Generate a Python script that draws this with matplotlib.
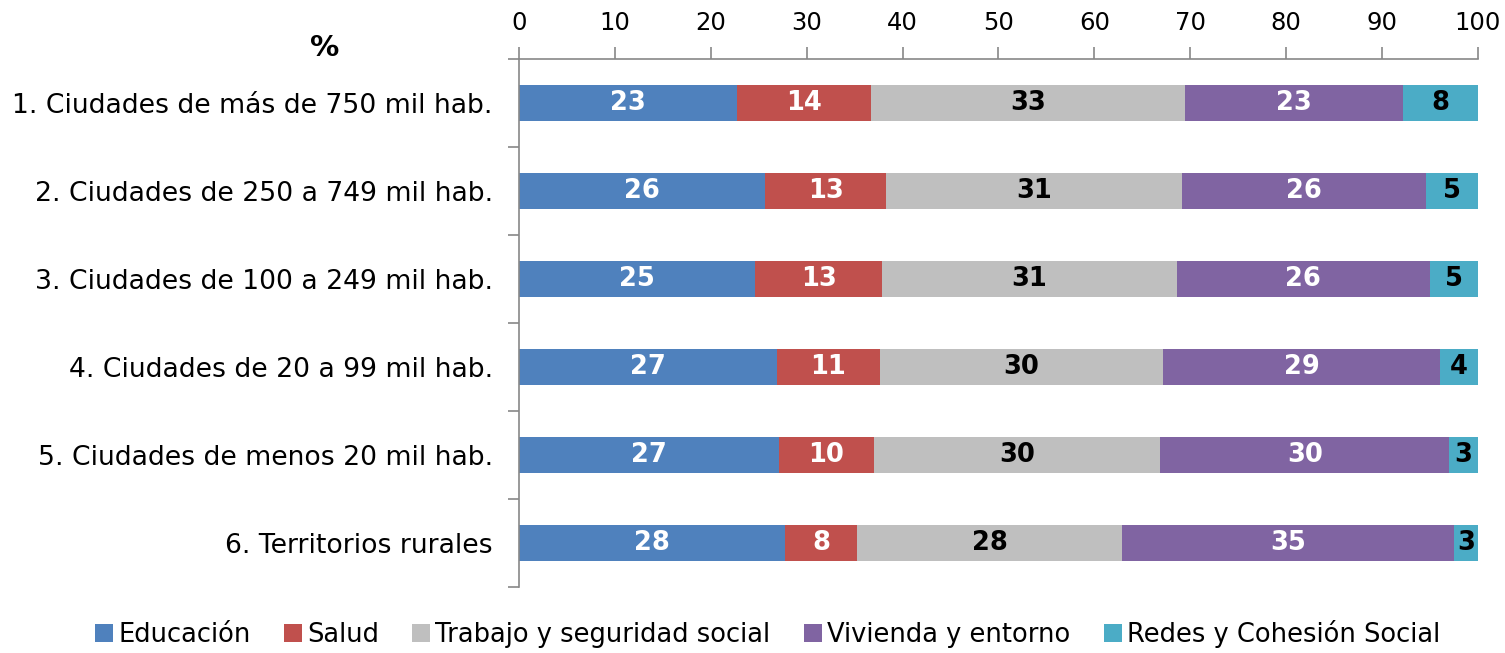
import matplotlib.pyplot as plt
import numpy as np

categories = [
    "1. Ciudades de más de 750 mil hab.",
    "2. Ciudades de 250 a 749 mil hab.",
    "3. Ciudades de 100 a 249 mil hab.",
    "4. Ciudades de 20 a 99 mil hab.",
    "5. Ciudades de menos 20 mil hab.",
    "6. Territorios rurales",
]

series_names = ["Educación", "Salud", "Trabajo y seguridad social",
                "Vivienda y entorno", "Redes y Cohesión Social"]

educacion = [22.7, 25.7, 24.6, 26.9, 27.1, 27.7]
salud = [14.0, 12.6, 13.3, 10.7, 9.9, 7.6]
trabajo = [32.8, 30.8, 30.7, 29.6, 29.9, 27.6]
vivienda = [22.7, 25.5, 26.4, 28.9, 30.1, 34.6]
redes = [7.8, 5.4, 5.0, 3.9, 3.0, 2.5]

colors = ["#4F81BD", "#C0504D", "#BFBFBF", "#8064A2", "#4BACC6"]
text_colors = ["white", "white", "black", "white", "black"]

plt.rcParams["font.family"] = ["DejaVu Sans"]

fig = plt.figure(figsize=(15.05, 6.53), dpi=100)
ax = fig.add_axes([0.3449, 0.1011, 0.6370, 0.8085])

y = np.arange(len(categories))
left = np.zeros(len(categories))
for name, vals, c, tc in zip(series_names,
                             [educacion, salud, trabajo, vivienda, redes],
                             colors, text_colors):
    vals = np.array(vals)
    ax.barh(y, vals, left=left, height=0.4, color=c, label=name)
    for yi, l, v in zip(y, left, vals):
        ax.text(l + v / 2, yi, str(int(v + 0.5)), ha="center", va="center",
                color=tc, fontsize=18.5, fontweight="bold")
    left += vals

ax.set_xlim(0, 100)
ax.set_ylim(len(categories) - 0.5, -0.5)
ax.xaxis.tick_top()
ax.set_xticks(range(0, 101, 10))
ax.tick_params(axis="x", direction="out", length=9, width=1.2, color="#888888",
               labelsize=17.5, pad=8.5)
ax.set_yticks(y)
ax.set_yticklabels(categories)
ax.tick_params(axis="y", which="major", length=0, labelsize=19.2, pad=19)
ax.set_yticks(np.arange(-0.5, len(categories), 1), minor=True)
ax.tick_params(axis="y", which="minor", length=8, width=1.2, color="#888888")

for s in ["right", "bottom"]:
    ax.spines[s].set_visible(False)
for s in ["top", "left"]:
    ax.spines[s].set_color("#888888")
    ax.spines[s].set_linewidth(1.2)

fig.text(0.216, 0.926, "%", fontsize=21, fontweight="bold", ha="center", va="center")

fig.legend(loc="lower center", bbox_to_anchor=(0.51, -0.028), ncol=5,
           frameon=False, handlelength=0.7, handleheight=0.7,
           handletextpad=0.2, columnspacing=1.3,
           prop={"family": ["Liberation Sans Narrow", "DejaVu Sans"], "size": 18.5})

fig.savefig("out.png", dpi=100)
